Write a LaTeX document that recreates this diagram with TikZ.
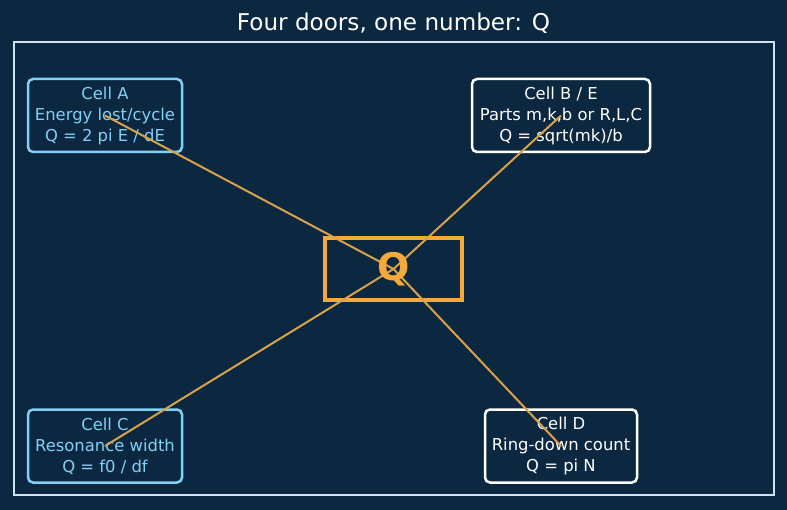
\documentclass[tikz,border=0pt]{standalone}
\usepackage{fontspec}
\setmainfont{DejaVu Sans}
\definecolor{bg}{HTML}{0B2840}
\definecolor{sky}{HTML}{82D0F5}
\definecolor{frameC}{HTML}{CFE3EE}
\definecolor{qorange}{HTML}{F5A93B}
\definecolor{link}{HTML}{D9A24A}
\tikzset{
  cellbox/.style={draw, rounded corners=5pt, line width=2.5pt, fill=bg, align=center,
    inner sep=0pt, font=\fontsize{16.4}{21}\selectfont, minimum height=73pt},
  skycell/.style={cellbox, draw=sky, text=sky, minimum width=154pt},
  whitecell/.style={cellbox, draw=white, text=white},
  linkline/.style={draw=link, line width=2pt},
}
\begin{document}
\begin{tikzpicture}[x=1pt,y=-1pt]
\fill[bg] (0,0) rectangle (787,510);
\useasboundingbox (0,0) rectangle (787,510);
\node[text=white, font=\fontsize{23.1}{28}\selectfont] (title) at (393.5,23) {Four doors, one number: Q};
\draw[frameC, line width=1.4pt] (14,42) rectangle (774,495);
\node[draw=qorange, line width=4pt, minimum width=137pt, minimum height=62pt, inner sep=0pt] (q) at (393.5,269) {};
\node[skycell] (a) at (105,115.5) {Cell A\\Energy lost/cycle\\Q = 2 pi E / dE};
\node[whitecell, minimum width=178pt] (b) at (561,115.5) {Cell B / E\\Parts m,k,b or R,L,C\\Q = sqrt(mk)/b};
\node[skycell] (c) at (105,446) {Cell C\\Resonance width\\Q = f0 / df};
\node[whitecell, minimum width=152pt] (d) at (561,446) {Cell D\\Ring-down count\\Q = pi N};
\draw[linkline] (a.center) -- (q.center);
\draw[linkline] (b.center) -- (q.center);
\draw[linkline] (c.center) -- (q.center);
\draw[linkline] (d.center) -- (q.center);
\node[text=qorange, font=\fontsize{38}{40}\bfseries\selectfont] (qlabel) at (q.center) {Q};
\end{tikzpicture}
\end{document}
